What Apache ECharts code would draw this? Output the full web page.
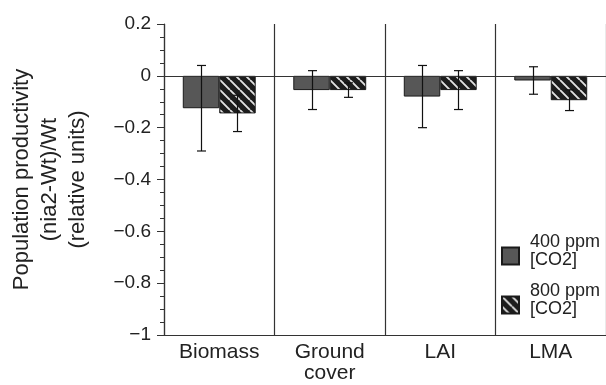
<!DOCTYPE html>
<html>
<head>
<meta charset="utf-8">
<script src="https://cdn.jsdelivr.net/npm/echarts@6/dist/echarts.min.js"></script>
<style>
html,body{margin:0;padding:0;background:#fff;}
#chart{width:606px;height:385px;}
</style>
</head>
<body>
<div id="chart"></div>
<script>
const categories = ['Biomass', 'Ground\ncover', 'LAI', 'LMA'];
const seriesNames = ['400 ppm\n[CO2]', '800 ppm\n[CO2]'];
const ppm400 = [-0.125, -0.055, -0.08, -0.018];
const ppm800 = [-0.145, -0.055, -0.055, -0.094];
const err400 = [0.165, 0.075, 0.12, 0.053];
const err800 = [0.07, 0.028, 0.075, 0.04];
const yTicks = { min: -1, max: 0.2, interval: 0.2 };
const yName = 'Population productivity\n(nia2-Wt)/Wt\n(relative units)';

const FONT = 'Liberation Sans';
const INK = '#222';

function stripePattern() {
  const s = 10;
  const c = document.createElement('canvas');
  c.width = s; c.height = s;
  const g = c.getContext('2d');
  g.fillStyle = '#1c1c1c';
  g.fillRect(0, 0, s, s);
  g.strokeStyle = '#e0e0e0';
  g.lineWidth = 1.9;
  g.beginPath();
  g.moveTo(0, 0); g.lineTo(s, s);
  g.moveTo(-s, 0); g.lineTo(0, s);
  g.moveTo(s, 0); g.lineTo(2 * s, s);
  g.stroke();
  return c;
}

const barCatGap = 0.34;
function errorSeries(values, errs, side) {
  return {
    type: 'custom',
    z: 5,
    silent: true,
    data: values.map((v, i) => [i, v - errs[i], v + errs[i]]),
    renderItem: function (params, api) {
      const idx = api.value(0);
      const band = api.size([1, 0])[0];
      const offset = side * band * (1 - barCatGap) / 4;
      const lo = api.coord([idx, api.value(1)]);
      const hi = api.coord([idx, api.value(2)]);
      const x = Math.round(lo[0] + offset) + 0.5;
      const cap = 4.5;
      const style = { stroke: '#111', lineWidth: 1.2, fill: null };
      return {
        type: 'group',
        children: [
          { type: 'line', shape: { x1: x, y1: hi[1], x2: x, y2: lo[1] }, style: style },
          { type: 'line', shape: { x1: x - cap, y1: hi[1], x2: x + cap, y2: hi[1] }, style: style },
          { type: 'line', shape: { x1: x - cap, y1: lo[1], x2: x + cap, y2: lo[1] }, style: style }
        ]
      };
    }
  };
}

const chart = echarts.init(document.getElementById('chart'), null, { renderer: 'canvas' });
chart.setOption({
  animation: false,
  backgroundColor: '#fff',
  textStyle: { fontFamily: FONT, color: INK },
  grid: { left: 161, top: 24, width: 448, height: 311, containLabel: false },
  legend: {
    orient: 'vertical',
    left: 496,
    top: 228,
    itemWidth: 17,
    itemHeight: 17,
    itemGap: 3,
    icon: 'rect',
    data: seriesNames,
    formatter: function (name) {
      return name.split('\n').map(function (s) { return '{t|' + s + '}'; }).join('\n') + '\n{s| }';
    },
    textStyle: {
      fontFamily: FONT, color: INK, padding: [0, 0, 0, 6],
      rich: {
        t: { fontFamily: FONT, fontSize: 18, lineHeight: 18, color: INK },
        s: { fontSize: 2, lineHeight: 10, height: 10 }
      }
    }
  },
  xAxis: {
    type: 'category',
    data: categories,
    axisLine: { onZero: false, lineStyle: { color: '#333', width: 1.2 } },
    axisTick: { show: false },
    axisLabel: { fontFamily: FONT, fontSize: 21, lineHeight: 21, color: INK, margin: 7, interval: 0 },
    splitLine: { show: true, interval: 0, lineStyle: { color: '#333', width: 1.2 } }
  },
  yAxis: {
    type: 'value',
    min: yTicks.min,
    max: yTicks.max,
    interval: yTicks.interval,
    name: yName,
    nameLocation: 'middle',
    nameGap: 72,
    nameTextStyle: { fontFamily: FONT, fontSize: 22, lineHeight: 28, color: INK, align: 'center' },
    axisLine: { show: true, lineStyle: { color: '#333', width: 1.2 } },
    axisTick: { show: true, length: 7, lineStyle: { color: '#333' } },
    minorTick: { show: true, splitNumber: 4, length: 4, lineStyle: { color: '#333' } },
    splitLine: { show: false },
    axisLabel: {
      fontFamily: FONT, fontSize: 19, color: INK, margin: 13,
      formatter: function (v) {
        const r = Math.round(v * 10) / 10;
        return String(r).replace('-', '\u2212');
      }
    }
  },
  series: [
    {
      name: seriesNames[0],
      type: 'bar',
      data: ppm400,
      barGap: '0%',
      barCategoryGap: (barCatGap * 100) + '%',
      itemStyle: { color: '#575757', borderColor: '#1a1a1a', borderWidth: 1 },
      markLine: {
        silent: true,
        symbol: 'none',
        label: { show: false },
        lineStyle: { color: '#333', width: 1.2, type: 'solid' },
        data: [{ yAxis: 0 }]
      }
    },
    {
      name: seriesNames[1],
      type: 'bar',
      data: ppm800,
      barGap: '0%',
      barCategoryGap: (barCatGap * 100) + '%',
      itemStyle: { color: { image: stripePattern(), repeat: 'repeat' }, borderColor: '#1a1a1a', borderWidth: 1 }
    },
    errorSeries(ppm400, err400, -1),
    errorSeries(ppm800, err800, 1)
  ]
});
</script>
</body>
</html>
